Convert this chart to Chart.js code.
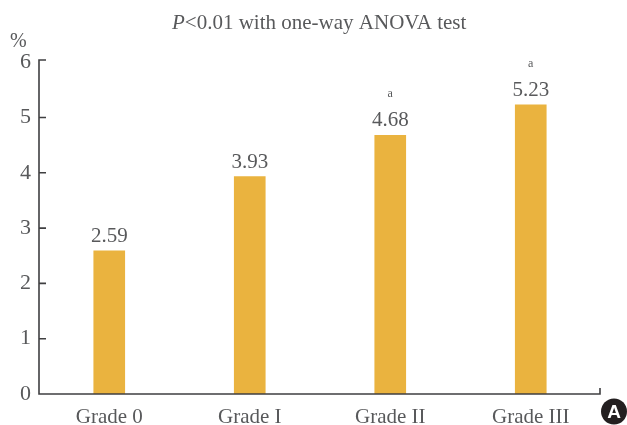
<!DOCTYPE html>
<html>
<head>
<meta charset="utf-8">
<style>
  html, body { margin: 0; padding: 0; background: #fff; }
  canvas { display: block; }
</style>
<script src="https://cdn.jsdelivr.net/npm/chart.js@4/dist/chart.umd.min.js"></script>
</head>
<body>
<canvas id="chart" width="627" height="425"></canvas>
<script>
const CATEGORIES = ['Grade 0', 'Grade I', 'Grade II', 'Grade III'];
const VALUES = [2.59, 3.93, 4.68, 5.23];
const MARKS = ['', '', 'a', 'a'];
const Y_TOP = 6.04; // axis line runs a touch past the 6 spacing in the original

const SERIF = "'Liberation Serif', serif";
const TEXT = '#58595b';
const AXIS = '#3f3f41';
const BAR = '#eab33f';

const annotate = {
    id: 'annotate',
    afterDatasetsDraw(chart) {
        const { ctx, scales: { x, y } } = chart;
        const left = x.left, right = x.right - 1, base = y.getPixelForValue(0);

        // axis lines with inward ticks
        ctx.save();
        ctx.strokeStyle = AXIS;
        ctx.lineWidth = 1.6;
        ctx.beginPath();
        ctx.moveTo(left + 7, y.top);
        ctx.lineTo(left, y.top);
        ctx.lineTo(left, base);
        ctx.lineTo(right, base);
        ctx.lineTo(right, base - 6);
        y.ticks.slice(0, -1).forEach(t => {
            const py = y.getPixelForValue(t.value);
            ctx.moveTo(left, py);
            ctx.lineTo(left + 7, py);
        });
        ctx.stroke();

        // value labels and superscript marks
        ctx.fillStyle = TEXT;
        ctx.textAlign = 'center';
        ctx.textBaseline = 'alphabetic';
        chart.getDatasetMeta(0).data.forEach((bar, i) => {
            ctx.font = '21px ' + SERIF;
            ctx.fillText(VALUES[i].toFixed(2), bar.x, bar.y - 9);
            if (MARKS[i]) {
                ctx.font = '12px ' + SERIF;
                ctx.fillText(MARKS[i], bar.x, bar.y - 38);
            }
        });

        // title, with the italic P
        ctx.textAlign = 'left';
        ctx.font = 'italic 21px ' + SERIF;
        ctx.fillText('P', 172, 29);
        const pw = ctx.measureText('P').width;
        ctx.font = '21px ' + SERIF;
        ctx.fillText('<0.01 with one-way ANOVA test', 172 + pw, 29);

        // unit
        ctx.font = '20px ' + SERIF;
        ctx.fillText('%', 10, 47);

        // panel badge
        ctx.fillStyle = '#231f20';
        ctx.beginPath();
        ctx.arc(614, 411.5, 13, 0, Math.PI * 2);
        ctx.fill();
        ctx.fillStyle = '#fff';
        ctx.font = "bold 19px 'Liberation Sans', sans-serif";
        ctx.textAlign = 'center';
        ctx.textBaseline = 'middle';
        ctx.fillText('A', 614, 412.5);
        ctx.restore();
    }
};

new Chart(document.getElementById('chart'), {
    type: 'bar',
    data: {
        labels: CATEGORIES,
        datasets: [{ data: VALUES, backgroundColor: BAR, borderWidth: 0, barThickness: 31 }]
    },
    options: {
        responsive: false,
        animation: false,
        layout: { padding: { top: 60, right: 26, left: 0, bottom: 0 } },
        plugins: { legend: { display: false }, tooltip: { enabled: false } },
        scales: {
            x: {
                grid: { display: false, drawTicks: false },
                border: { display: false },
                afterFit: s => { s.height = 31; },
                ticks: { color: TEXT, padding: 11, font: { family: SERIF, size: 21 }, maxRotation: 0 }
            },
            y: {
                min: 0,
                max: Y_TOP,
                grid: { display: false, drawTicks: false },
                border: { display: false },
                afterFit: s => { s.width = 39; },
                ticks: { color: TEXT, stepSize: 1, padding: 8, includeBounds: false, font: { family: SERIF, size: 22 } }
            }
        }
    },
    plugins: [annotate]
});
</script>
</body>
</html>
